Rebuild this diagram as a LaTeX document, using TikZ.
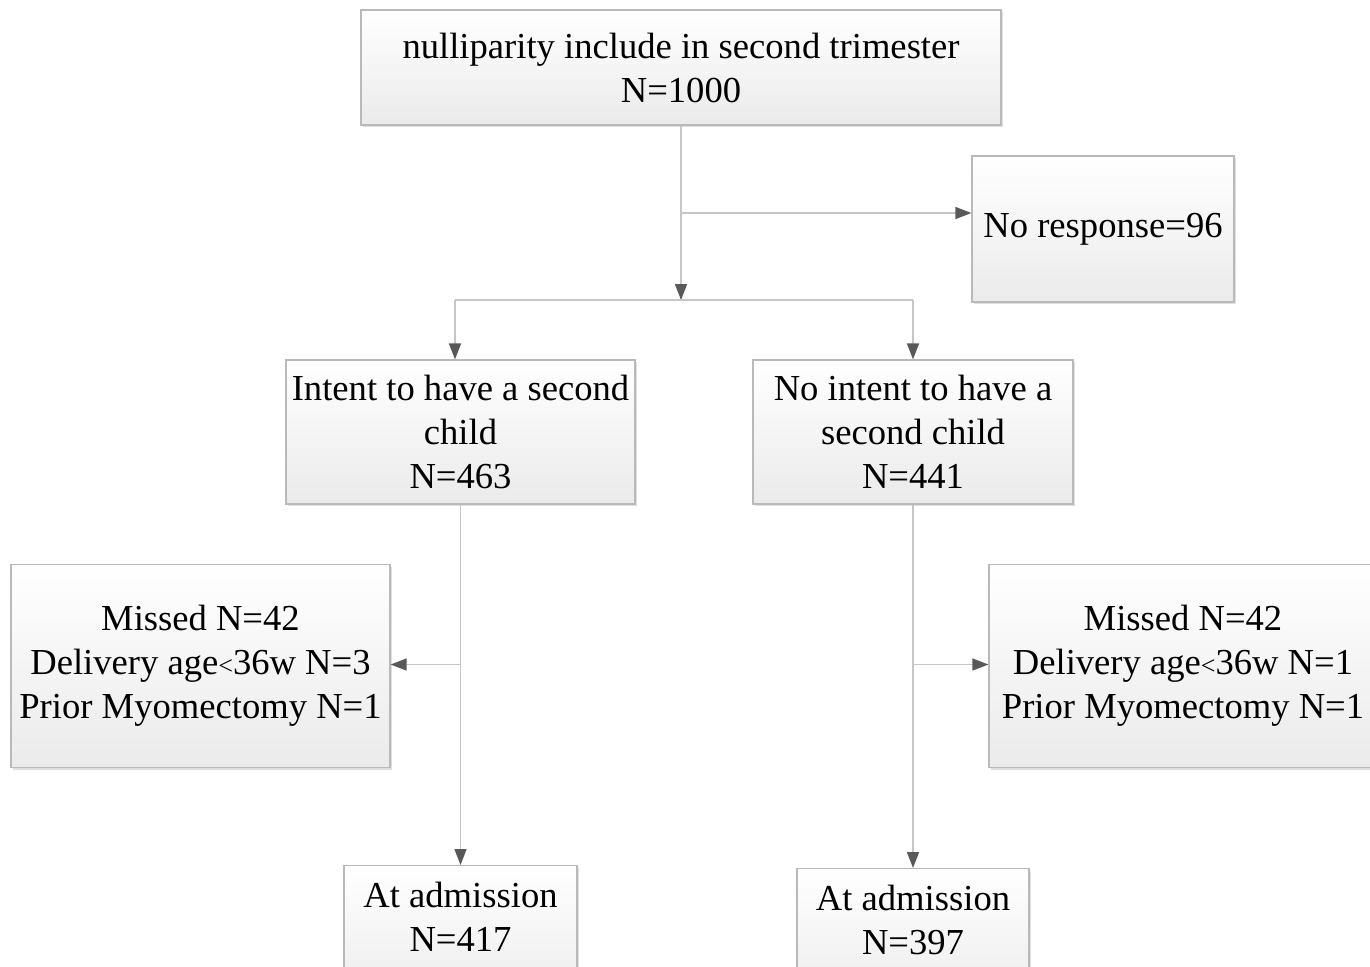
\documentclass[tikz,border=0pt]{standalone}
\usepackage{fontspec}
\setmainfont{Liberation Serif}
\usetikzlibrary{arrows.meta,shadows}
\newcommand{\lt}{{\fontsize{13}{13}\selectfont<}}
\begin{document}
\begin{tikzpicture}[x=0.5pt,y=-0.5pt,
  box/.style={draw=gray!55, line width=0.6pt, top color=white, bottom color=gray!16,
    align=center, inner sep=0pt, font=\fontsize{18.3}{22}\selectfont,
    drop shadow={shadow xshift=1.2pt, shadow yshift=-1.2pt, fill=gray, opacity=0.25}},
  conn/.style={draw=gray!45, line width=0.7pt},
  arr/.style={conn, -{Triangle[length=8pt,width=6pt,color=gray!70!black,fill=gray!70!black]}}
]
\useasboundingbox (0,0) rectangle (1370,966);
\clip (0,0) rectangle (1370,966);

\node[box, minimum width=320pt, minimum height=57.5pt] (top) at (681,67.5)
  {nulliparity include in second trimester\\N=1000};
\node[box, minimum width=131pt, minimum height=73pt] (nr) at (1103,229)
  {No response=96};
\node[box, minimum width=174.5pt, minimum height=72pt] (int) at (460.5,432)
  {Intent to have a second\\child\\N=463};
\node[box, minimum width=160pt, minimum height=72pt] (nint) at (913,432)
  {No intent to have a\\second child\\N=441};
\node[box, minimum width=189.5pt, minimum height=101.5pt] (ml) at (200.5,666)
  {Missed N=42\\Delivery age\lt36w N=3\\Prior Myomectomy N=1};
\node[box, minimum width=194pt, minimum height=101.5pt] (mr) at (1183,666)
  {Missed N=42\\Delivery age\lt36w N=1\\Prior Myomectomy N=1};
\node[box, minimum width=116.5pt, minimum height=72pt, anchor=north] (al) at (460.5,865)
  {At admission\\N=417\\[-1pt]\mbox{}};
\node[box, minimum width=116pt, minimum height=72pt, anchor=north] (ar) at (913,868)
  {At admission\\N=397\\[-1pt]\mbox{}};

\coordinate (j1) at (681,300);
\coordinate (j2) at (681,213);
\coordinate (jl) at (455,300);
\coordinate (jr) at (913,300);
\coordinate (j3) at (460.5,664.5);
\coordinate (j4) at (913,664.5);

\draw[conn] (top.south) -- (j1);
\draw[arr] (j2) -- (j2 -| nr.west);
\draw[arr] (j2) -- (j1);
\draw[conn] (jl) -- (jr);
\draw[arr] (jl) -- (jl |- int.north);
\draw[arr] (jr) -- (jr |- nint.north);
\draw[arr] (int.south) -- (al.north);
\draw[arr] (j3) -- (j3 -| ml.east);
\draw[arr] (nint.south) -- (ar.north);
\draw[arr] (j4) -- (j4 -| mr.west);
\end{tikzpicture}
\end{document}
